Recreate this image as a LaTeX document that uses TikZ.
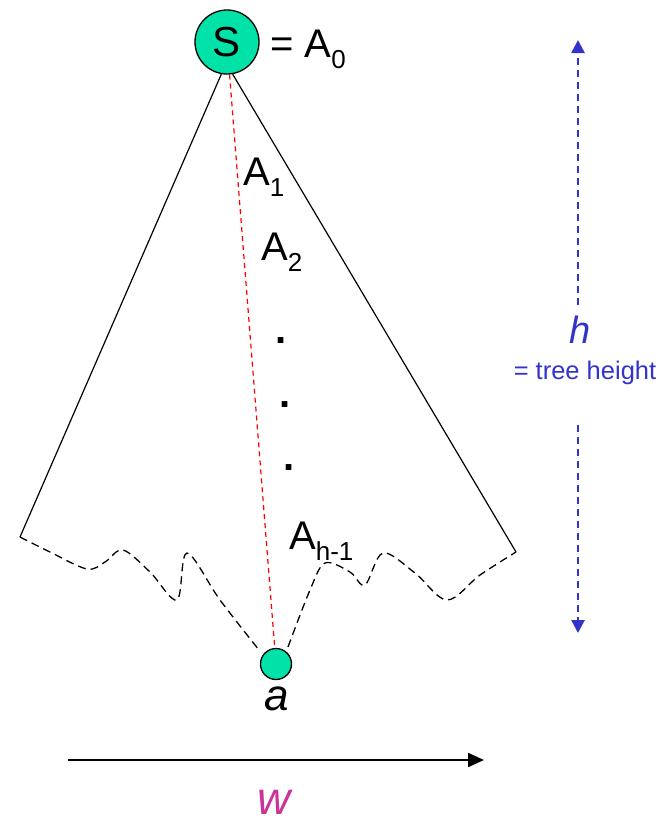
\documentclass[tikz,border=0pt]{standalone}
\usepackage{fontspec}
\setmainfont{Liberation Sans}
\usetikzlibrary{arrows.meta}
\definecolor{nodegreen}{RGB}{0,226,168}
\definecolor{hblue}{RGB}{51,51,204}
\definecolor{wmag}{RGB}{204,51,153}
\newcommand\mysub[1]{\raisebox{-0.28em}{\fontsize{26}{26}\selectfont #1}}
\tikzset{
  vertex/.style={circle,draw=black,line width=1.3pt,fill=nodegreen,inner sep=0pt},
  lbl/.style={inner sep=0pt,anchor=base west,font=\fontsize{40}{44}\selectfont},
  dotlbl/.style={inner sep=0pt,anchor=base,font=\fontsize{40}{44}\selectfont\bfseries},
  treeside/.style={line width=1.2pt},
  frontier/.style={line width=1.3pt,dash pattern=on 8pt off 5pt},
  pathline/.style={red,line width=1.2pt,dash pattern=on 5pt off 4pt},
  harrow/.style={hblue,line width=2.6pt,dash pattern=on 7pt off 5pt,-{Triangle[width=13pt,length=13pt]}},
}
\begin{document}
\begin{tikzpicture}[x=1pt,y=-1pt]
\useasboundingbox (0,0) rectangle (670,825);
% nodes
\node[vertex,minimum size=64pt] (s) at (227,42) {\fontsize{42}{44}\selectfont S};
\node[lbl] (a0) at (270,57) {= A\mysub{0}};
\node[vertex,minimum size=31pt] (a) at (276,664) {};
\node[inner sep=0pt,anchor=base,font=\fontsize{44}{46}\selectfont\itshape] (alab) at (277,710) {a};
\coordinate (lb) at (20,537);
\coordinate (rb) at (516,552);
% tree sides
\draw[treeside] (s.260) -- (lb);
\draw[treeside] (s.280) -- (rb);
% red path
\draw[pathline] (s) -- (a);
% frontier
\draw[frontier] plot[smooth,tension=0.55] coordinates {(20,537) (50,552) (87,569) (105,562) (123,550) (150,572) (177,600) (187,553) (220,600) (259,650)};
\draw[frontier] plot[smooth,tension=0.55] coordinates {(288,647) (310,590) (325,563) (350,572) (365,585) (383,553) (415,573) (447,600) (480,575) (516,552)};
% labels
\node[lbl] (a1) at (243,185) {A\mysub{1}};
\node[lbl] (a2) at (261,260) {A\mysub{2}};
\node[dotlbl] (d1) at (281,343) {.};
\node[dotlbl] (d2) at (285,407) {.};
\node[dotlbl] (d3) at (289,470) {.};
\node[lbl] (ah) at (289,549) {A\mysub{h-1}};
% height arrows
\coordinate (htop) at (578,40);
\coordinate (hmidt) at (578,305);
\coordinate (hmidb) at (578,425);
\coordinate (hbot) at (578,633);
\draw[harrow] (hmidt) -- (htop);
\draw[harrow] (hmidb) -- (hbot);
\node[inner sep=0pt,hblue,font=\fontsize{38}{40}\selectfont\itshape] (h) at (580,330) {h};
\node[inner sep=0pt,hblue,font=\fontsize{25.5}{27}\selectfont] (th) at (585,373) {= tree height};
% width arrow
\coordinate (wl) at (68,760);
\coordinate (wr) at (484,760);
\draw[line width=2.2pt,-{Triangle[width=14pt,length=16pt]}] (wl) -- (wr);
\node[inner sep=0pt,anchor=base,wmag,font=\fontsize{46}{48}\selectfont\itshape] (w) at (274,814) {w};
\end{tikzpicture}
\end{document}
